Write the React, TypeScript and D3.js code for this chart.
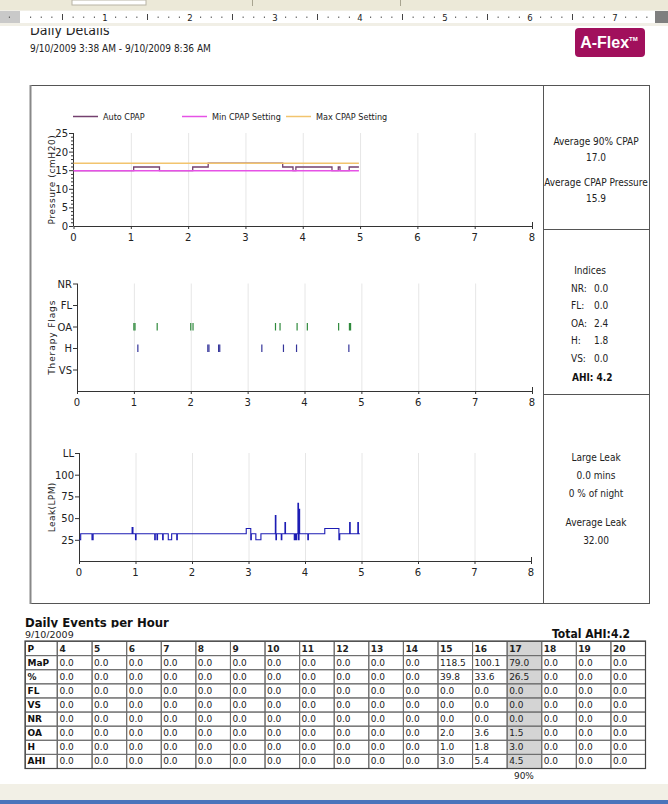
import { line, curveStepAfter, scaleLinear, scaleBand, range, type ScaleLinear } from "d3";

const W = 668;
const H = 804;

const NARROW = "'DejaVu Sans Condensed', 'Liberation Sans Narrow', 'Liberation Sans', sans-serif";
const WIDE = "'DejaVu Sans', Verdana, sans-serif";

// header
const reportTitle = "Daily Details";
const reportRange = "9/10/2009 3:38 AM - 9/10/2009 8:36 AM";
const rulerInches = [1, 2, 3, 4, 5, 6, 7];

// pressure, step points [hour, cmH2O]
const pressureSeries = ["Auto CPAP", "Min CPAP Setting", "Max CPAP Setting"];
const autoCpap: [number, number][] = [
  [0, 15], [1.05, 16], [1.5, 15], [2.08, 16], [2.35, 17], [3.65, 16],
  [3.83, 15], [3.88, 16], [4.51, 15], [4.62, 16], [4.65, 15], [4.81, 16], [4.98, 16],
];
const minCpap: [number, number][] = [[0, 15], [4.98, 15]];
const maxCpap: [number, number][] = [[0, 17], [4.98, 17]];
const pressureTicks = [0, 5, 10, 15, 20, 25];
const hourTicks = [0, 1, 2, 3, 4, 5, 6, 7, 8];

// therapy flags, bottom to top
const flagRows = ["VS", "H", "OA", "FL", "NR"];
const oaEvents = [1.0, 1.02, 1.41, 2.0, 2.04, 3.49, 3.57, 3.87, 4.05, 4.6, 4.79, 4.81];
const hEvents = [1.07, 2.3, 2.32, 2.49, 2.51, 3.25, 3.63, 3.86, 4.78];

// leak, step points [hour, LPM]
const leakSteps: [number, number][] = [
  [0, 25], [0.03, 32], [0.23, 25], [0.25, 32], [0.94, 39], [0.955, 32], [1.0, 25], [1.01, 32],
  [1.34, 25], [1.35, 32], [1.38, 25], [1.39, 32], [1.48, 25], [1.49, 32], [1.58, 25], [1.64, 32],
  [1.73, 25], [1.74, 32], [2.96, 38], [3.04, 25], [3.05, 32], [3.13, 25], [3.22, 32],
  [3.475, 53], [3.485, 25], [3.495, 32], [3.58, 25], [3.59, 32], [3.645, 45], [3.655, 32],
  [3.81, 25], [3.83, 32], [3.845, 25], [3.855, 32], [3.875, 67], [3.885, 25], [3.895, 60],
  [3.905, 32], [4.05, 25], [4.06, 32], [4.35, 38], [4.6, 25], [4.615, 32], [4.79, 45],
  [4.8, 32], [4.935, 45], [4.945, 32], [4.97, 32],
];
const leakTicks = [25, 50, 75, 100, 125];
const leakTickLabels = ["25", "50", "75", "100", "LL"];

// side panel
const pressureStats = ["Average 90% CPAP", "17.0", "Average CPAP Pressure", "15.9"];
const indexLabels = ["NR:", "FL:", "OA:", "H:", "VS:"];
const indexValues = [0.0, 0.0, 2.4, 1.8, 0.0];
const ahiValue = 4.2;
const leakStats = ["Large Leak", "0.0 mins", "0 % of night", "Average Leak", "32.00"];

// events per hour table
const tableTitle = "Daily Events per Hour";
const tableDate = "9/10/2009";
const tableHours = [4, 5, 6, 7, 8, 9, 10, 11, 12, 13, 14, 15, 16, 17, 18, 19, 20];
const tableRows = ["MaP", "%", "FL", "VS", "NR", "OA", "H", "AHI"];
const mapRow = [0, 0, 0, 0, 0, 0, 0, 0, 0, 0, 0, 118.5, 100.1, 79.0, 0, 0, 0];
const pctRow = [0, 0, 0, 0, 0, 0, 0, 0, 0, 0, 0, 39.8, 33.6, 26.5, 0, 0, 0];
const flRow = [0, 0, 0, 0, 0, 0, 0, 0, 0, 0, 0, 0, 0, 0, 0, 0, 0];
const vsRow = [0, 0, 0, 0, 0, 0, 0, 0, 0, 0, 0, 0, 0, 0, 0, 0, 0];
const nrRow = [0, 0, 0, 0, 0, 0, 0, 0, 0, 0, 0, 0, 0, 0, 0, 0, 0];
const oaRow = [0, 0, 0, 0, 0, 0, 0, 0, 0, 0, 0, 2.0, 3.6, 1.5, 0, 0, 0];
const hRow = [0, 0, 0, 0, 0, 0, 0, 0, 0, 0, 0, 1.0, 1.8, 3.0, 0, 0, 0];
const ahiRow = [0, 0, 0, 0, 0, 0, 0, 0, 0, 0, 0, 3.0, 5.4, 4.5, 0, 0, 0];
const highlightHour = 17;
const highlightNote = "90%";
const totalAhi = "4.2";

const pressureColors = ["#74406f", "#e652e6", "#f2c46e"];
const axisColor = "#333";
const gridColor = "#e6e6e6";

type Scale = ScaleLinear<number, number>;

function XAxis({ scale, y, top }: { scale: Scale; y: number; top: number }) {
  return (
    <g>
      {hourTicks.slice(1, -1).map((t) => (
        <line key={`g${t}`} x1={scale(t) + 0.5} x2={scale(t) + 0.5} y1={top} y2={y} stroke={gridColor} />
      ))}
      <line x1={scale(0)} x2={scale(8)} y1={y + 0.5} y2={y + 0.5} stroke={axisColor} />
      <line x1={scale(8) + 0.5} x2={scale(8) + 0.5} y1={y - 4} y2={y} stroke={axisColor} />
      {hourTicks.map((t) => (
        <g key={t}>
          <line x1={scale(t) + 0.5} x2={scale(t) + 0.5} y1={y} y2={y + 3} stroke={axisColor} />
          <text x={scale(t)} y={y + 15} textAnchor="middle" fontFamily={WIDE} fontSize={10} fill="#222">
            {t}
          </text>
        </g>
      ))}
    </g>
  );
}

function YAxis({
  scale, x, ticks, labels, minor, title, titleSpacing,
}: {
  scale: Scale; x: number; ticks: number[]; labels: string[]; minor?: number[]; title: string; titleSpacing: number;
}) {
  const [d0, d1] = scale.domain();
  const mid = (scale(d0) + scale(d1)) / 2;
  return (
    <g>
      <line x1={x + 0.5} x2={x + 0.5} y1={scale(d1)} y2={scale(d0)} stroke={axisColor} />
      {(minor ?? []).map((t) => (
        <line key={`m${t}`} x1={x - 2} x2={x} y1={scale(t) + 0.5} y2={scale(t) + 0.5} stroke={axisColor} />
      ))}
      {ticks.map((t, i) => (
        <g key={t}>
          <line x1={x - 4} x2={x} y1={scale(t) + 0.5} y2={scale(t) + 0.5} stroke={axisColor} />
          <text x={x - 5} y={scale(t) + 4} textAnchor="end" fontFamily={WIDE} fontSize={10} fill="#222">
            {labels[i]}
          </text>
        </g>
      ))}
      <text
        transform={`translate(55, ${mid}) rotate(-90)`}
        textAnchor="middle"
        fontFamily={WIDE}
        fontSize={9}
        letterSpacing={titleSpacing}
        fill="#222"
      >
        {title}
      </text>
    </g>
  );
}

function Ruler() {
  const origin = 20;
  const ppi = 85;
  const marks = range(-2, 62);
  return (
    <g>
      <rect x={0} y={0} width={W} height={10} fill="#ece9d8" />
      <rect x={72} y={0} width={74} height={5} fill="#fff" stroke="#b8b4a4" />
      <line x1={252.5} x2={252.5} y1={0} y2={6} stroke="#a8a490" />
      <line x1={400.5} x2={400.5} y1={0} y2={6} stroke="#a8a490" />
      <rect x={0} y={10} width={W} height={16} fill="#f1efe6" />
      <rect x={0} y={11} width={origin} height={12} fill="#c9c9c9" />
      <rect x={origin} y={11} width={655 - origin} height={12} fill="#fff" />
      <rect x={655} y={11} width={W - 655} height={12} fill="#7f7f7f" />
      {marks.map((i) => {
        const px = origin + (i * ppi) / 8;
        if (px < 2 || px > 652) return null;
        if (i % 8 === 0) {
          const n = i / 8;
          if (n <= 0 || !rulerInches.includes(n)) return null;
          return (
            <text key={i} x={px} y={20.5} textAnchor="middle" fontFamily={WIDE} fontSize={8.5} fill="#222">
              {n}
            </text>
          );
        }
        if (i % 4 === 0) {
          return <line key={i} x1={px} x2={px} y1={14} y2={20} stroke="#444" />;
        }
        return <line key={i} x1={px} x2={px} y1={16.5} y2={18} stroke="#555" />;
      })}
    </g>
  );
}

export default function App() {
  // pressure chart
  const xP = scaleLinear().domain([0, 8]).range([73.5, 532]);
  const yP = scaleLinear().domain([0, 25]).range([226, 133]);
  const stepP = line<[number, number]>()
    .x((d) => xP(d[0]))
    .y((d) => yP(d[1]) + 0.5)
    .curve(curveStepAfter);
  const pressureMinor = range(0, 26).filter((v) => v % 5 !== 0);

  // flags chart
  const xF = scaleLinear().domain([0, 8]).range([77, 532]);
  const yF = scaleLinear().domain([0, 5]).range([391, 283.5]);

  // leak chart
  const xL = scaleLinear().domain([0, 8]).range([79, 531]);
  const yL = scaleLinear().domain([0, 125]).range([561.5, 453]);
  const stepL = line<[number, number]>()
    .x((d) => xL(d[0]))
    .y((d) => yL(d[1]))
    .curve(curveStepAfter);

  // table
  const rowValues = [mapRow, pctRow, flRow, vsRow, nrRow, oaRow, hRow, ahiRow];
  const colX = scaleBand<number>().domain(tableHours).range([57, 645]);
  const rowY = scaleBand<string>().domain(["P", ...tableRows]).range([641, 768]);
  const cw = colX.bandwidth();
  const rh = rowY.bandwidth();

  const legendX = [73, 182, 286];
  const panelCx = 596;

  return (
    <svg
      width={W}
      height={H}
      viewBox={`0 0 ${W} ${H}`}
      style={{ position: "absolute", left: 0, top: 0, display: "block", background: "#fff" }}
    >
      <defs>
        <clipPath id="headClip">
          <rect x={0} y={28} width={400} height={14} />
        </clipPath>
        <clipPath id="titleClip">
          <rect x={0} y={600} width={400} height={27.5} />
        </clipPath>
        <clipPath id="dateClip">
          <rect x={0} y={629} width={400} height={9} />
        </clipPath>
      </defs>
      <rect x={0} y={0} width={W} height={H} fill="#fff" />

      {/* header */}
      <Ruler />
      <text x={30} y={35} clipPath="url(#headClip)" fontFamily={NARROW} fontSize={14} fill="#222">
        {reportTitle}
      </text>
      <text x={30} y={52} fontFamily={NARROW} fontSize={10} fill="#222">
        {reportRange}
      </text>
      <rect x={575} y={28} width={70} height={29} rx={4} fill="#a1105c" />
      <text x={609} y={48} textAnchor="middle" fontFamily="'Liberation Sans Narrow', 'Liberation Sans', sans-serif" fontWeight="bold" fontSize={16} fill="#fff">
        A-Flex
        <tspan fontSize={6} dy={-7}>TM</tspan>
      </text>

      {/* frame */}
      <rect x={30.5} y={85.5} width={619} height={518} fill="none" stroke="#555" />
      <line x1={30.5} x2={30.5} y1={85} y2={604} stroke="#888" strokeWidth={2} />
      <line x1={543.5} x2={543.5} y1={85} y2={604} stroke="#555" />
      <line x1={543} x2={650} y1={229.5} y2={229.5} stroke="#555" />
      <line x1={543} x2={650} y1={394.5} y2={394.5} stroke="#555" />

      {/* pressure */}
      {pressureSeries.map((name, i) => (
        <g key={name}>
          <line x1={legendX[i]} x2={legendX[i] + 25} y1={116.5} y2={116.5} stroke={pressureColors[i]} strokeWidth={1.5} />
          <text x={legendX[i] + 30} y={119.5} fontFamily={NARROW} fontSize={9} fill="#222">
            {name}
          </text>
        </g>
      ))}
      <XAxis scale={xP} y={226} top={133} />
      <YAxis
        scale={yP}
        x={73}
        ticks={pressureTicks}
        labels={pressureTicks.map(String)}
        minor={pressureMinor}
        title="Pressure (cmH20)"
        titleSpacing={0.6}
      />
      <path d={stepP(autoCpap) ?? ""} fill="none" stroke={pressureColors[0]} strokeWidth={1.3} />
      <path d={stepP(minCpap) ?? ""} fill="none" stroke={pressureColors[1]} strokeWidth={1.5} />
      <path d={stepP(maxCpap) ?? ""} fill="none" stroke={pressureColors[2]} strokeWidth={1.5} />

      {/* therapy flags */}
      <XAxis scale={xF} y={391} top={283.5} />
      <YAxis
        scale={yF}
        x={77}
        ticks={[1, 2, 3, 4, 5]}
        labels={flagRows}
        title="Therapy Flags"
        titleSpacing={0.9}
      />
      {oaEvents.map((t, i) => (
        <line key={`oa${i}`} x1={xF(t)} x2={xF(t)} y1={yF(3) - 3.5} y2={yF(3) + 4} stroke="#2f8a3c" strokeWidth={1.2} />
      ))}
      {hEvents.map((t, i) => (
        <line key={`h${i}`} x1={xF(t)} x2={xF(t)} y1={yF(2) - 3.5} y2={yF(2) + 4} stroke="#34349a" strokeWidth={1.2} />
      ))}

      {/* leak */}
      <XAxis scale={xL} y={561} top={453} />
      <YAxis
        scale={yL}
        x={79}
        ticks={leakTicks}
        labels={leakTickLabels}
        title="Leak(LPM)"
        titleSpacing={0.4}
      />
      <path d={stepL(leakSteps) ?? ""} fill="none" stroke="#1c1cb4" strokeWidth={1.1} />

      {/* side panel */}
      {pressureStats.map((s, i) => (
        <text key={s} x={panelCx} y={144.5 + Math.floor(i / 2) * 41 + (i % 2) * 16} textAnchor="middle" fontFamily={NARROW} fontSize={10} fill="#222">
          {s}
        </text>
      ))}
      <text x={panelCx - 6} y={273.5} textAnchor="middle" fontFamily={NARROW} fontSize={10} fill="#222">
        Indices
      </text>
      {indexLabels.map((l, i) => (
        <g key={l}>
          <text x={571} y={291.5 + i * 17.6} fontFamily={NARROW} fontSize={10} fill="#222">
            {l}
          </text>
          <text x={594} y={291.5 + i * 17.6} fontFamily={NARROW} fontSize={10} fill="#222">
            {indexValues[i].toFixed(1)}
          </text>
        </g>
      ))}
      <text x={572} y={380.5} fontFamily={NARROW} fontSize={10} fontWeight="bold" fill="#111">
        AHI: {ahiValue.toFixed(1)}
      </text>
      {leakStats.map((s, i) => (
        <text key={s} x={panelCx} y={460.5 + i * 18 + (i >= 3 ? 11 : 0)} textAnchor="middle" fontFamily={NARROW} fontSize={10} fill="#222">
          {s}
        </text>
      ))}

      {/* events per hour table */}
      <text x={25} y={627} clipPath="url(#titleClip)" fontFamily={NARROW} fontWeight="bold" fontSize={13} fill="#111">
        {tableTitle}
      </text>
      <text x={25} y={638} clipPath="url(#dateClip)" fontFamily={WIDE} fontSize={9.5} fill="#222">
        {tableDate}
      </text>
      <text x={630} y={638} textAnchor="end" fontFamily={NARROW} fontWeight="bold" fontSize={12} fill="#111">
        Total AHI:{totalAhi}
      </text>
      <rect
        x={colX(highlightHour)}
        y={rowY("P")}
        width={cw}
        height={rh * 9}
        fill="#d4d4d4"
      />
      {["P", ...tableRows].map((r, ri) => {
        const y = rowY(r) ?? 0;
        return (
          <g key={r}>
            <rect x={25.5} y={y + 0.5} width={31.5} height={rh} fill="none" stroke="#6d6d6d" />
            <text x={27.5} y={y + 10.5} fontFamily={WIDE} fontWeight="bold" fontSize={9} fill="#111">
              {r}
            </text>
            {tableHours.map((h, ci) => (
              <g key={h}>
                <rect x={(colX(h) ?? 0) + 0.5} y={y + 0.5} width={cw} height={rh} fill="none" stroke="#6d6d6d" />
                <text
                  x={(colX(h) ?? 0) + 2.5}
                  y={y + 10.5}
                  fontFamily={WIDE}
                  fontWeight={ri === 0 ? "bold" : "normal"}
                  fontSize={9}
                  fill="#222"
                >
                  {ri === 0 ? h : rowValues[ri - 1][ci].toFixed(1)}
                </text>
              </g>
            ))}
          </g>
        );
      })}
      <rect x={25} y={641} width={620.5} height={127.5} fill="none" stroke="#444" strokeWidth={1.2} />
      <text
        x={(colX(highlightHour) ?? 0) + cw / 2}
        y={779}
        textAnchor="middle"
        fontFamily={WIDE}
        fontSize={9}
        fill="#222"
      >
        {highlightNote}
      </text>

      {/* window chrome */}
      <rect x={0} y={784} width={W} height={16} fill="#f2f0e6" />
      <rect x={0} y={800} width={W} height={4} fill="#4a74bb" />
    </svg>
  );
}
